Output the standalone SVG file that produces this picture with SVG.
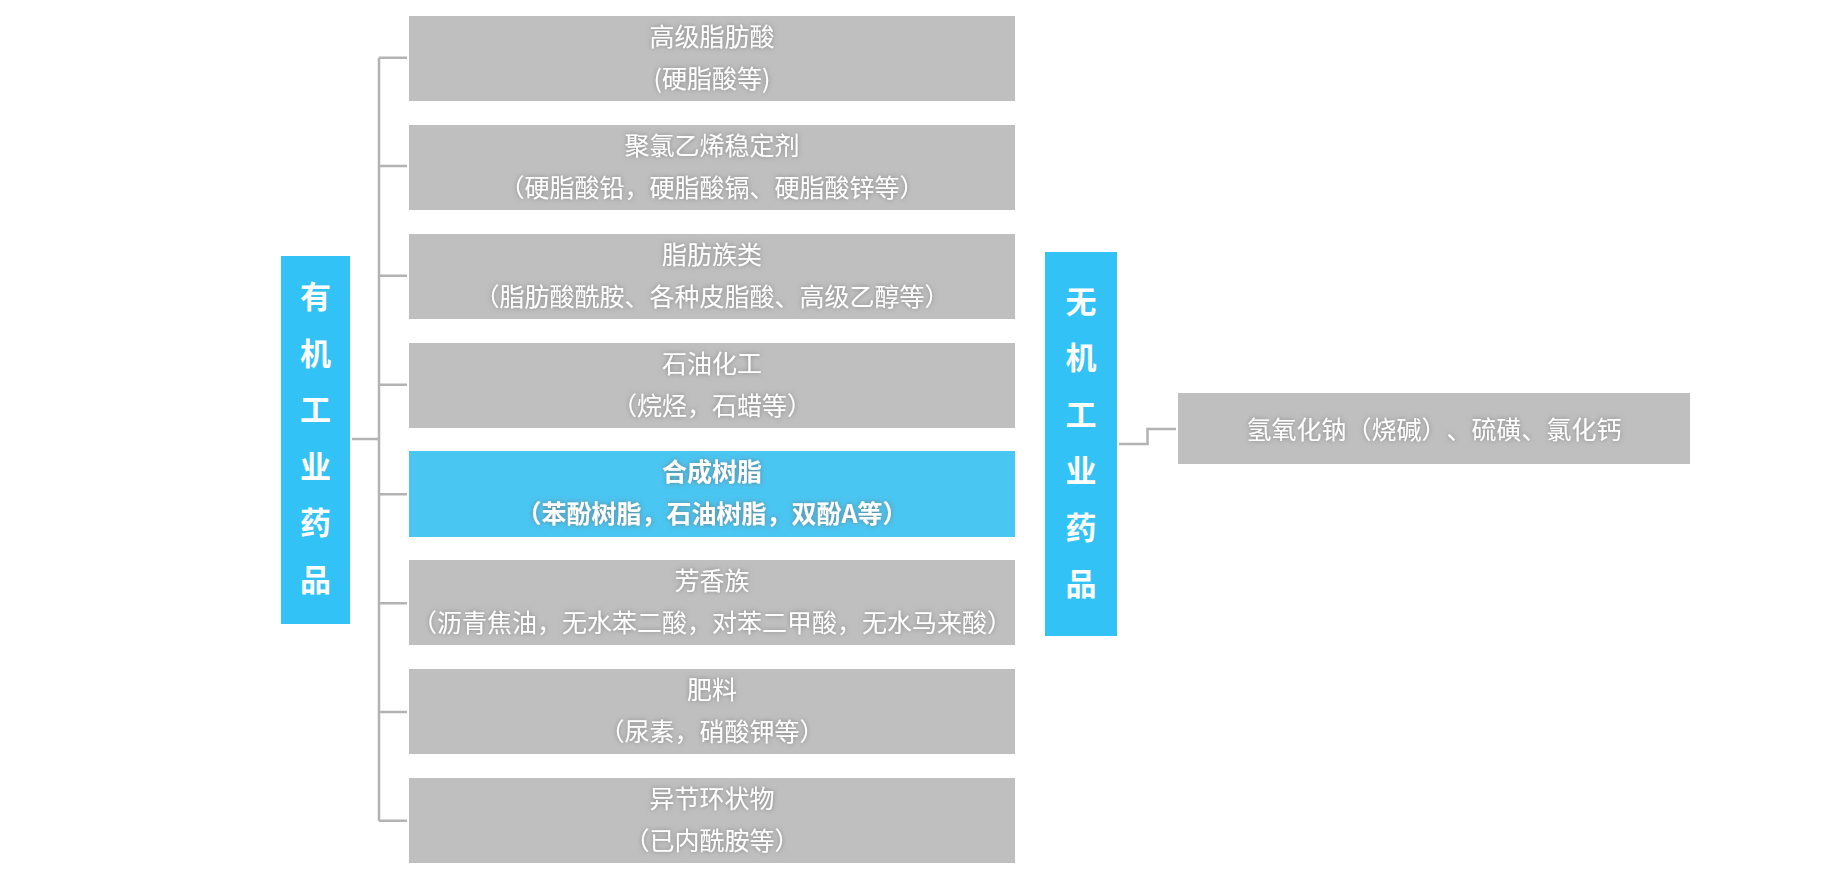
<svg xmlns="http://www.w3.org/2000/svg" width="1823" height="886" viewBox="0 0 1823 886">
<defs>
<filter id="glow" x="-10%" y="-40%" width="120%" height="180%">
<feGaussianBlur in="SourceAlpha" stdDeviation="2.5" result="b"/>
<feFlood flood-color="#6E6E6E" flood-opacity="0.75"/>
<feComposite in2="b" operator="in" result="s"/>
<feMerge><feMergeNode in="s"/><feMergeNode in="SourceGraphic"/></feMerge>
</filter>
</defs>
<style>
.box{fill:#BFBFBF}
.hl{fill:#4AC6F2}
.cat{fill:#33C2F5}
.t{font-family:"Noto Sans CJK SC","Noto Sans",sans-serif;font-size:25px;fill:#FFFFFF;text-anchor:middle;filter:url(#glow);text-spacing-trim:space-all}
.b{font-weight:bold}
.v{font-family:"Noto Sans CJK SC","Noto Sans",sans-serif;font-size:31px;font-weight:bold;fill:#FFFFFF;text-anchor:middle}
.c{fill:none;stroke:#B3B3B3;stroke-width:2.5}
</style>
<rect width="1823" height="886" fill="#FFFFFF"/>
<g id="connectors">
<path class="c" d="M379 57.7V820.7"/>
<path class="c" d="M352 439H379"/>
<path class="c" d="M379 57.7H407M379 166H407M379 275.7H407M379 384.7H407M379 494.3H407M379 603.3H407M379 712H407M379 820.7H407"/>
<path class="c" d="M1119 444H1147.5V429H1176"/>
</g>
<g id="organic">
<rect class="cat" x="281" y="256" width="69" height="368"/>
<text class="v" x="315.5"><tspan x="315.5" y="308.2">有</tspan><tspan x="315.5" y="364.7">机</tspan><tspan x="315.5" y="421.2">工</tspan><tspan x="315.5" y="477.7">业</tspan><tspan x="315.5" y="534.2">药</tspan><tspan x="315.5" y="590.7">品</tspan></text>
</g>
<g id="inorganic">
<rect class="cat" x="1045" y="252" width="72" height="384"/>
<text class="v" x="1081"><tspan x="1081" y="312.7">无</tspan><tspan x="1081" y="369.2">机</tspan><tspan x="1081" y="425.7">工</tspan><tspan x="1081" y="482.2">业</tspan><tspan x="1081" y="538.7">药</tspan><tspan x="1081" y="595.2">品</tspan></text>
</g>
<g id="n1">
<rect class="box" x="409" y="16" width="606" height="85"/>
<text class="t" x="712" y="46">高级脂肪酸</text>
<text class="t" x="712" y="88">(硬脂酸等)</text>
</g>
<g id="n2">
<rect class="box" x="409" y="125" width="606" height="85"/>
<text class="t" x="712" y="155">聚氯乙烯稳定剂</text>
<text class="t" x="712" y="197">（硬脂酸铅，硬脂酸镉、硬脂酸锌等）</text>
</g>
<g id="n3">
<rect class="box" x="409" y="234" width="606" height="85"/>
<text class="t" x="712" y="264">脂肪族类</text>
<text class="t" x="712" y="306">（脂肪酸酰胺、各种皮脂酸、高级乙醇等）</text>
</g>
<g id="n4">
<rect class="box" x="409" y="343" width="606" height="85"/>
<text class="t" x="712" y="373">石油化工</text>
<text class="t" x="712" y="415">（烷烃，石蜡等）</text>
</g>
<g id="n5">
<rect class="hl" x="409" y="451" width="606" height="86"/>
<text class="t b" x="712" y="481">合成树脂</text>
<text class="t b" x="712" y="523">（苯酚树脂，石油树脂，双酚A等）</text>
</g>
<g id="n6">
<rect class="box" x="409" y="560" width="606" height="85"/>
<text class="t" x="712" y="590">芳香族</text>
<text class="t" x="712" y="632">（沥青焦油，无水苯二酸，对苯二甲酸，无水马来酸）</text>
</g>
<g id="n7">
<rect class="box" x="409" y="669" width="606" height="85"/>
<text class="t" x="712" y="699">肥料</text>
<text class="t" x="712" y="741">（尿素，硝酸钾等）</text>
</g>
<g id="n8">
<rect class="box" x="409" y="778" width="606" height="85"/>
<text class="t" x="712" y="808">异节环状物</text>
<text class="t" x="712" y="850">（已内酰胺等）</text>
</g>
<g id="n9">
<rect class="box" x="1178" y="393" width="512" height="71"/>
<text class="t" x="1434" y="438.5">氢氧化钠（烧碱）、硫磺、氯化钙</text>
</g>
</svg>
